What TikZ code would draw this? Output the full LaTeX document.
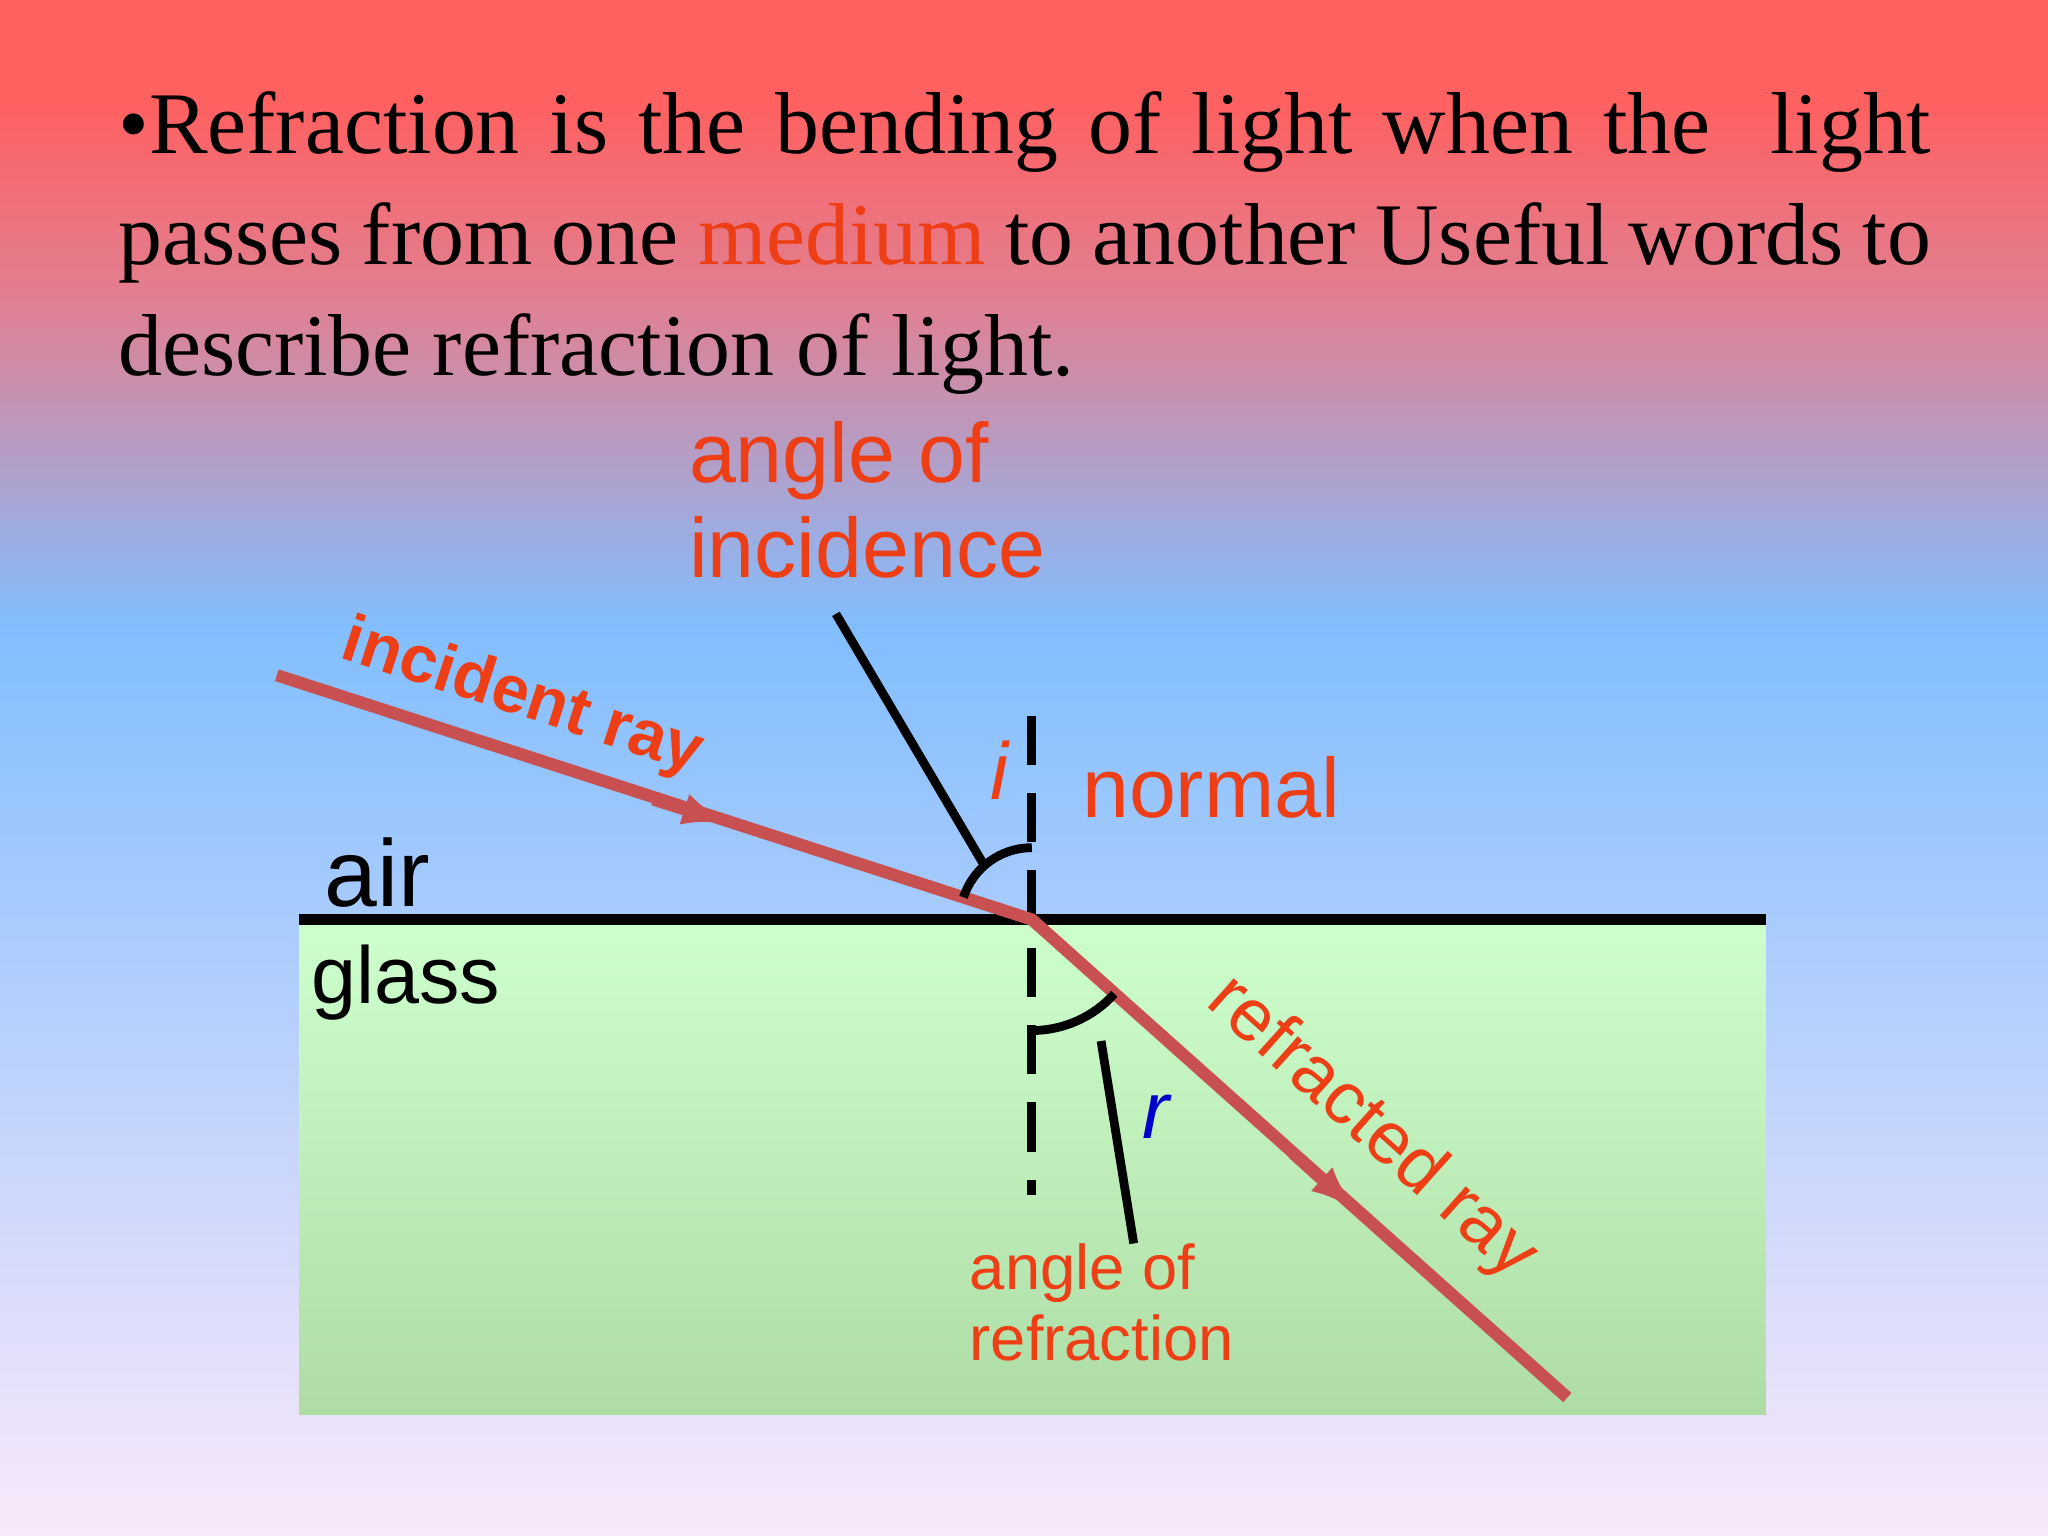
\documentclass[tikz,border=0pt]{standalone}
\usepackage{fontspec}
\usetikzlibrary{arrows.meta}
\setmainfont{Liberation Serif}
\setsansfont{Liberation Sans}
\definecolor{lbl}{RGB}{238,62,22}
\definecolor{ray}{RGB}{200,80,80}
\definecolor{bgA}{RGB}{255,96,96}
\definecolor{bgB}{RGB}{222,130,150}
\definecolor{bgC}{RGB}{130,190,255}
\definecolor{bgD}{RGB}{250,232,250}
\definecolor{glA}{RGB}{205,255,205}
\definecolor{glB}{RGB}{175,220,165}
\tikzset{lab/.style={text=lbl,font=\sffamily,inner sep=0pt},
 raypath/.style={draw=ray,line width=3.5pt},
 blk/.style={draw=black,line width=2.5pt}}
\begin{document}
\begin{tikzpicture}[x=0.013061cm,y=-0.013061cm]
\useasboundingbox (0,0) rectangle (1568,1176);
\shade[top color=bgA,bottom color=bgA] (0,0) rectangle (1568,80);
\shade[top color=bgA,bottom color=bgB] (0,79) rectangle (1568,240);
\shade[top color=bgB,bottom color=bgC] (0,239) rectangle (1568,480);
\shade[top color=bgC,bottom color=bgD] (0,479) rectangle (1568,1176);
\shade[top color=glA,bottom color=glB] (229,704) rectangle (1352,1083);
\node[anchor=north west,inner sep=0pt] (title) at (90,70) {\parbox{18.13cm}{\fontsize{25}{31.5}\selectfont
\textbullet Refraction is the bending of light when the \ light\linebreak passes from one \textcolor{lbl}{medium} to another Useful words to\linebreak describe refraction of light.}};
\coordinate (O) at (790,704);
\coordinate (L) at (229,704);
\coordinate (R) at (1352,704);
\coordinate (A) at (212,517);
\coordinate (B) at (1200,1070);
\coordinate (N1) at (790,548);
\coordinate (N2) at (790,915);
\coordinate (a1) at (500,612); \coordinate (a2) at (560,631);
\coordinate (b1) at (990,883); \coordinate (b2) at (1040,928);
\draw[blk,line width=3pt] (L) -- (R);
\draw[blk,dash pattern=on 14pt off 8pt] (N1) -- (N2);
\draw[raypath] (A) -- (O) -- (B);
\draw[ray,line width=3.5pt,-{Latex[length=14pt,width=9pt]}] (a1) -- (a2);
\draw[ray,line width=3.5pt,-{Latex[length=14pt,width=9pt]}] (b1) -- (b2);
\draw[blk] (O) ++(-162:55) arc[start angle=-162,end angle=-90,radius=55];
\draw[blk] (O) ++(90:85) arc[start angle=90,end angle=42,radius=85];
\coordinate (p1) at (640,470); \coordinate (p2) at (755,665);
\coordinate (q1) at (843,797); \coordinate (q2) at (868,952);
\draw[blk] (p1) -- (p2);
\draw[blk] (q1) -- (q2);
\node[lab,anchor=north west,align=left,font=\sffamily\fontsize{24}{27}\selectfont] (ai) at (527,322) {angle of\\incidence};
\node[lab,anchor=west,font=\sffamily\fontsize{24}{27}\selectfont] (nm) at (828,603) {normal};
\node[lab,font=\sffamily\itshape\fontsize{23}{25}\selectfont] (ii) at (765,590) {i};
\node[lab,text=blue!80!black,font=\sffamily\itshape\fontsize{23}{25}\selectfont] (rr) at (885,855) {r};
\node[lab,text=black,anchor=west,font=\sffamily\fontsize{27}{30}\selectfont] (air) at (248,668) {air};
\node[lab,text=black,anchor=west,font=\sffamily\fontsize{23}{25}\selectfont] (gl) at (238,752) {glass};
\node[lab,rotate=-18,font=\sffamily\bfseries\fontsize{19}{22}\selectfont] (ir) at (400,535) {incident ray};
\node[lab,rotate=-41.8,font=\sffamily\fontsize{21}{24}\selectfont] (fr) at (1050,864) {refracted ray};
\node[lab,anchor=north west,align=left,font=\sffamily\fontsize{18}{20}\selectfont] (ar) at (742,952) {angle of\\refraction};
\end{tikzpicture}
\end{document}
